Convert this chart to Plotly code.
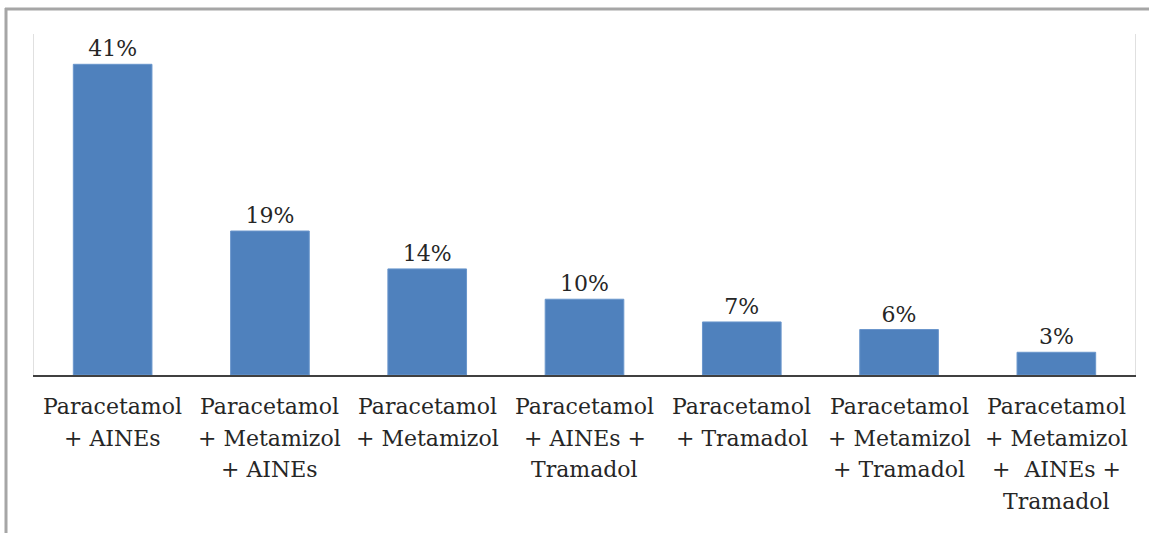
import plotly.graph_objects as go

# Pain-relief drug combinations and share of patients (%)
category_lines = [
    ["Paracetamol", "+ AINEs"],
    ["Paracetamol", "+ Metamizol", "+ AINEs"],
    ["Paracetamol", "+ Metamizol"],
    ["Paracetamol", "+ AINEs +", "Tramadol"],
    ["Paracetamol", "+ Tramadol"],
    ["Paracetamol", "+ Metamizol", "+ Tramadol"],
    ["Paracetamol", "+ Metamizol", "+\u00a0 AINEs +", "Tramadol"],
]
categories = [" ".join(lines) for lines in category_lines]
percentages = [41, 19, 14, 10, 7, 6, 3]

W, H = 1149, 533
M_L, M_R, M_T, M_B = 34, 14, 34, 158
FONT = "DejaVu Serif"
TEXT_COLOR = "#262626"
LINE_STEP = 31.7      # vertical distance between label lines, px
LABEL_OFFSET = 17     # gap between axis line and first label line, px

fig = go.Figure(
    go.Bar(
        x=categories,
        y=percentages,
        marker=dict(color="#4f81bd", line=dict(color="#6a96cc", width=1)),
        text=[f"{v}%" for v in percentages],
        textposition="outside",
        cliponaxis=False,
        textfont=dict(family=FONT, size=22, color=TEXT_COLOR),
        hoverinfo="skip",
    )
)

# category labels, one annotation per text line so the leading can be set
for cat, lines in zip(categories, category_lines):
    for i, line in enumerate(lines):
        fig.add_annotation(
            x=cat, xref="x", y=0, yref="paper",
            text=line, showarrow=False,
            xanchor="center", yanchor="top",
            yshift=-(LABEL_OFFSET + i * LINE_STEP),
            font=dict(family=FONT, size=22, color=TEXT_COLOR),
        )

# outer frame of the figure (left and top edges)
pw = W - M_L - M_R
ph = H - M_T - M_B
def px_x(x):
    return (x - M_L) / pw
def px_y(y):
    return (H - M_B - y) / ph

frame = dict(color="#a6a6a6", width=3)
fig.add_shape(type="line", xref="paper", yref="paper",
              x0=px_x(6), x1=px_x(6), y0=px_y(8), y1=px_y(H + 5), line=frame)
fig.add_shape(type="line", xref="paper", yref="paper",
              x0=px_x(5), x1=px_x(W + 5), y0=px_y(9), y1=px_y(9), line=frame)

fig.update_layout(
    width=W,
    height=H,
    margin=dict(l=M_L, r=M_R, t=M_T, b=M_B),
    paper_bgcolor="white",
    plot_bgcolor="white",
    bargap=0.5,
    showlegend=False,
    font=dict(family=FONT, size=22, color=TEXT_COLOR),
    xaxis=dict(
        showline=True,
        linecolor="#404040",
        linewidth=2,
        ticks="",
        showgrid=False,
        showticklabels=False,
    ),
    yaxis=dict(
        range=[0, 45],
        showline=True,
        linecolor="#e0e0e0",
        linewidth=1,
        mirror=True,
        showgrid=False,
        zeroline=False,
        showticklabels=False,
        ticks="",
    ),
)

fig.write_html("out.html")
